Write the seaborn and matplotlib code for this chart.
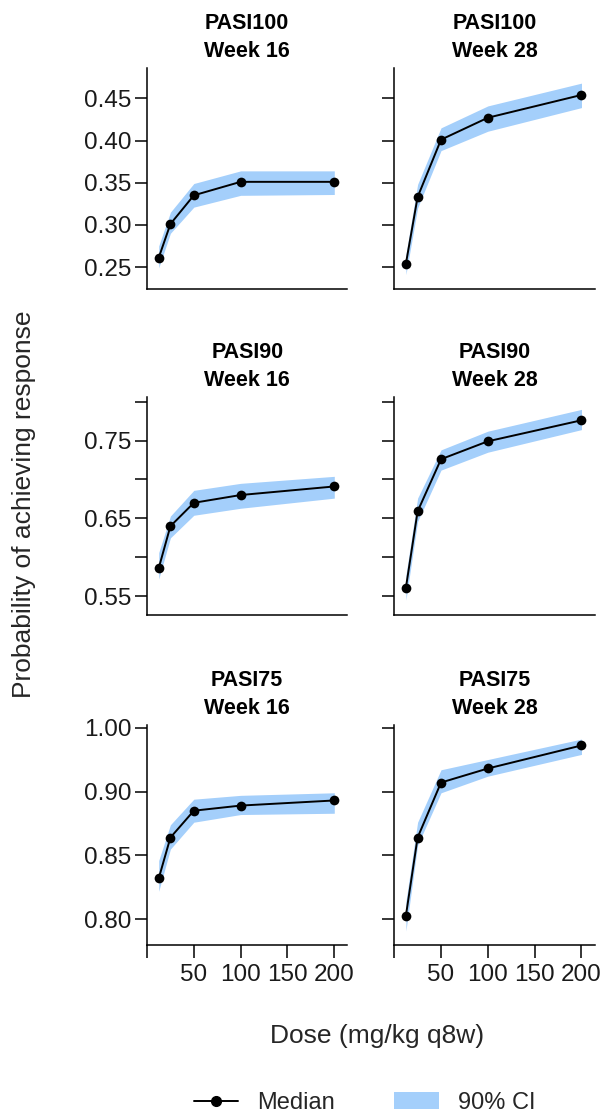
import numpy as np
import pandas as pd
import matplotlib
matplotlib.use("Agg")
import matplotlib.pyplot as plt
import seaborn as sns
from matplotlib.lines import Line2D
from matplotlib.patches import Patch

# doses (mg/kg q8w)
dose = [12.5, 25, 50, 100, 200]

endpoints = ["PASI100", "PASI90", "PASI75"]
weeks = ["Week 16", "Week 28"]

# medians and 90% CI
pasi100_w16_med = [0.261, 0.301, 0.335, 0.351, 0.351]
pasi100_w16_lo = [0.249, 0.290, 0.321, 0.335, 0.336]
pasi100_w16_hi = [0.275, 0.315, 0.349, 0.364, 0.364]

pasi100_w28_med = [0.254, 0.333, 0.401, 0.427, 0.454]
pasi100_w28_lo = [0.241, 0.320, 0.388, 0.411, 0.439]
pasi100_w28_hi = [0.265, 0.348, 0.415, 0.441, 0.468]

pasi90_w16_med = [0.586, 0.640, 0.670, 0.680, 0.691]
pasi90_w16_lo = [0.572, 0.625, 0.654, 0.663, 0.676]
pasi90_w16_hi = [0.606, 0.653, 0.686, 0.695, 0.704]

pasi90_w28_med = [0.561, 0.659, 0.726, 0.749, 0.776]
pasi90_w28_lo = [0.545, 0.646, 0.712, 0.735, 0.764]
pasi90_w28_hi = [0.577, 0.676, 0.738, 0.762, 0.790]

pasi75_w16_med = [0.832, 0.864, 0.885, 0.889, 0.893]
pasi75_w16_lo = [0.822, 0.855, 0.876, 0.882, 0.883]
pasi75_w16_hi = [0.846, 0.874, 0.894, 0.897, 0.899]

pasi75_w28_med = [0.803, 0.864, 0.907, 0.918, 0.936]
pasi75_w28_lo = [0.791, 0.858, 0.899, 0.912, 0.929]
pasi75_w28_hi = [0.814, 0.876, 0.917, 0.925, 0.941]

series = {
    ("PASI100", "Week 16"): (pasi100_w16_med, pasi100_w16_lo, pasi100_w16_hi),
    ("PASI100", "Week 28"): (pasi100_w28_med, pasi100_w28_lo, pasi100_w28_hi),
    ("PASI90", "Week 16"): (pasi90_w16_med, pasi90_w16_lo, pasi90_w16_hi),
    ("PASI90", "Week 28"): (pasi90_w28_med, pasi90_w28_lo, pasi90_w28_hi),
    ("PASI75", "Week 16"): (pasi75_w16_med, pasi75_w16_lo, pasi75_w16_hi),
    ("PASI75", "Week 28"): (pasi75_w28_med, pasi75_w28_lo, pasi75_w28_hi),
}

# y ticks per row (labels copied as printed)
yticks = {
    "PASI100": ([0.25, 0.30, 0.35, 0.40, 0.45], ["0.25", "0.30", "0.35", "0.40", "0.45"]),
    "PASI90": ([0.55, 0.60, 0.65, 0.70, 0.75, 0.80], ["0.55", "", "0.65", "", "0.75", ""]),
    "PASI75": ([0.80, 0.85, 0.90, 0.95], ["0.80", "0.85", "0.90", "1.00"]),
}
ylims = {"PASI100": (0.224, 0.486), "PASI90": (0.526, 0.806), "PASI75": (0.780, 0.952)}
xticks = [0, 50, 100, 150, 200]
xticklabels = ["", "50", "100", "150", "200"]

rows = []
for (ep, wk), (med, lo, hi) in series.items():
    for d, m, l, h in zip(dose, med, lo, hi):
        rows.append(dict(endpoint=ep, week=wk, dose=d, median=m, lo=l, hi=h))
df = pd.DataFrame(rows)

sns.set_theme(style="ticks")
plt.rcParams["font.family"] = ["Liberation Sans", "DejaVu Sans"]

band = "#a4cffb"
fig = plt.figure(figsize=(6, 11.14), dpi=100)

lefts = [0.245, 0.657]
bottoms = {"PASI100": 0.7406, "PASI90": 0.448, "PASI75": 0.1517}
heights = {"PASI100": 0.1984, "PASI90": 0.1957, "PASI75": 0.1975}

for ep in endpoints:
    for j, wk in enumerate(weeks):
        ax = fig.add_axes([lefts[j], bottoms[ep], 0.334, heights[ep]])
        sub = df[(df.endpoint == ep) & (df.week == wk)]
        ax.fill_between(sub["dose"], sub["lo"], sub["hi"], color=band, lw=0)
        sns.lineplot(data=sub, x="dose", y="median", ax=ax, color="black",
                     marker="o", markersize=7, markeredgewidth=0, lw=1.4)
        ax.set_xlim(0, 214)
        ax.set_ylim(*ylims[ep])
        ax.set_yticks(yticks[ep][0])
        if j == 0:
            ax.set_yticklabels(yticks[ep][1])
        else:
            ax.set_yticklabels([])
        if ep == "PASI75":
            ax.set_xticks(xticks)
            ax.set_xticklabels(xticklabels)
        else:
            ax.set_xticks([])
        ax.set_xlabel("")
        ax.set_ylabel("")
        ax.set_title(f"{ep}\n{wk}", fontsize=15.5, fontweight="bold", pad=8,
                     linespacing=1.45, color="black")
        sns.despine(ax=ax)
        for s in ["left", "bottom"]:
            ax.spines[s].set_linewidth(1.1)
            ax.spines[s].set_color("black")
        ax.tick_params(length=9, width=1.1, color="black", labelsize=17.5,
                       labelcolor="#1a1a1a", pad=2)
        ax.tick_params(axis="x", pad=5)

fig.text(0.04, 0.547, "Probability of achieving response", rotation=90,
         ha="center", va="center", fontsize=19)
fig.text(0.628, 0.070, "Dose (mg/kg q8w)", ha="center", va="center", fontsize=19)

handles = [Line2D([0], [0], color="black", marker="o", markersize=7, lw=1.4),
           Patch(facecolor=band, edgecolor="none")]
fig.legend(handles, ["Median", "90% CI"], loc="center", ncol=2,
           bbox_to_anchor=(0.6075, 0.01), frameon=False, fontsize=17,
           handlelength=1.9, columnspacing=2.5, handletextpad=0.8)

fig.savefig("out.png", dpi=100)
